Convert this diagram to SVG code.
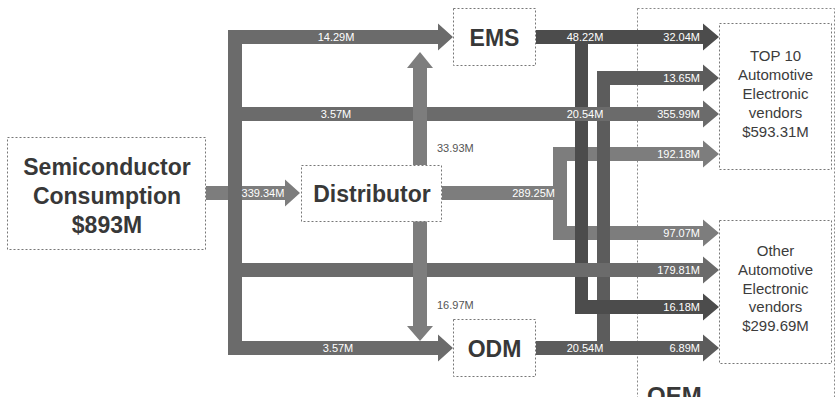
<svg xmlns="http://www.w3.org/2000/svg" width="836" height="397" viewBox="0 0 836 397">
<style>
.box{fill:#fff;stroke:#777;stroke-width:1;stroke-dasharray:2,2}
.oem{fill:none;stroke:#888;stroke-width:1;stroke-dasharray:2,2}
.big{font-family:"Liberation Sans",Arial,sans-serif;font-weight:bold;fill:#383838;text-anchor:middle}
.vend{font-family:"Liberation Sans",Arial,sans-serif;font-size:15px;fill:#3c3c3c;text-anchor:middle}
.lbl{font-family:"Liberation Sans",Arial,sans-serif;font-size:11px;fill:#fff}
.dlbl{font-family:"Liberation Sans",Arial,sans-serif;font-size:11px;fill:#555}
.e{text-anchor:end}
.m{text-anchor:middle}
.trunk{fill:#6b6b6b}
.dist{fill:#7d7d7d}
.ems{fill:#4c4c4c}
.odm{fill:#5c5c5c}
</style>
<rect width="836" height="397" fill="#fff"/>
<g id="oem">
<rect class="oem" x="637.5" y="8.5" width="197" height="400"/>
<text class="big" x="647" y="404" font-size="24" text-anchor="start" style="text-anchor:start">OEM</text>
</g>
<g id="connectors">
<polygon class="dist" points="206,186 285,186 285,179.5 300,193 285,206.5 285,200 206,200"/>
<polygon class="dist" points="442,186 553,186 553,147 703,147 703,140.5 719,154 703,167.5 703,161 567,161 567,226 703,226 703,219.5 719,233 703,246.5 703,240 553,240 553,200 442,200"/>
<polygon class="odm" points="536,341 597,341 597,71 703,71 703,64.5 719,78 703,91.5 703,85 610,85 610,341 703,341 703,334.5 719,348 703,361.5 703,355 536,355"/>
<polygon class="ems" points="536,30 703,30 703,23.5 719,37 703,50.5 703,44 588,44 588,300 703,300 703,293.5 719,307 703,320.5 703,314 575,314 575,44 536,44"/>
<rect class="trunk" x="228" y="30" width="14" height="325"/>
<polygon class="trunk" points="228,30 438,30 438,23.5 453,37 438,50.5 438,44 228,44"/>
<polygon class="trunk" points="228,107 703,107 703,100.5 719,114 703,127.5 703,121 228,121"/>
<polygon class="trunk" points="228,263 703,263 703,256.5 719,270 703,283.5 703,277 228,277"/>
<polygon class="trunk" points="228,341 438,341 438,334.5 453,348 438,361.5 438,355 228,355"/>
<polygon class="dist" points="413,165 413,68 407,68 420,52 433,68 427,68 427,165"/>
<polygon class="dist" points="413,221 413,326 407,326 420,341 433,326 427,326 427,221"/>
<text class="lbl m" x="336" y="41">14.29M</text>
<text class="lbl m" x="336" y="118">3.57M</text>
<text class="lbl m" x="338" y="352">3.57M</text>
<text class="lbl m" x="263" y="197">339.34M</text>
<text class="lbl m" x="585" y="41">48.22M</text>
<text class="lbl e" x="700" y="41">32.04M</text>
<text class="lbl e" x="700" y="82">13.65M</text>
<text class="lbl m" x="585" y="118">20.54M</text>
<text class="lbl e" x="700" y="118">355.99M</text>
<text class="lbl e" x="700" y="158">192.18M</text>
<text class="lbl e" x="555" y="197">289.25M</text>
<text class="lbl e" x="700" y="237">97.07M</text>
<text class="lbl e" x="700" y="274">179.81M</text>
<text class="lbl e" x="700" y="311">16.18M</text>
<text class="lbl m" x="585" y="352">20.54M</text>
<text class="lbl e" x="700" y="352">6.89M</text>
<text class="dlbl" x="437" y="152">33.93M</text>
<text class="dlbl" x="437" y="309">16.97M</text>
</g>
<g id="semiconductor">
<rect class="box" x="7.5" y="137.5" width="198" height="112"/>
<text class="big" x="107" y="175" font-size="23">Semiconductor</text>
<text class="big" x="107" y="204" font-size="23">Consumption</text>
<text class="big" x="107" y="233" font-size="23">$893M</text>
</g>
<g id="distributor">
<rect class="box" x="301.5" y="165.5" width="140" height="56"/>
<text class="big" x="372" y="202" font-size="23">Distributor</text>
</g>
<g id="ems">
<rect class="box" x="453.5" y="8.5" width="82" height="57"/>
<text class="big" x="494.5" y="46" font-size="23">EMS</text>
</g>
<g id="odm">
<rect class="box" x="453.5" y="319.5" width="82" height="57"/>
<text class="big" x="494.5" y="357" font-size="23">ODM</text>
</g>
<g id="top10">
<rect class="box" x="719.5" y="23.5" width="112" height="146"/>
<text class="vend" x="775.5" y="61">TOP 10</text>
<text class="vend" x="775.5" y="80">Automotive</text>
<text class="vend" x="775.5" y="99">Electronic</text>
<text class="vend" x="775.5" y="118">vendors</text>
<text class="vend" x="775.5" y="137">$593.31M</text>
</g>
<g id="other">
<rect class="box" x="719.5" y="220.5" width="112" height="143"/>
<text class="vend" x="775.5" y="256">Other</text>
<text class="vend" x="775.5" y="275">Automotive</text>
<text class="vend" x="775.5" y="294">Electronic</text>
<text class="vend" x="775.5" y="312">vendors</text>
<text class="vend" x="775.5" y="331">$299.69M</text>
</g>
</svg>
